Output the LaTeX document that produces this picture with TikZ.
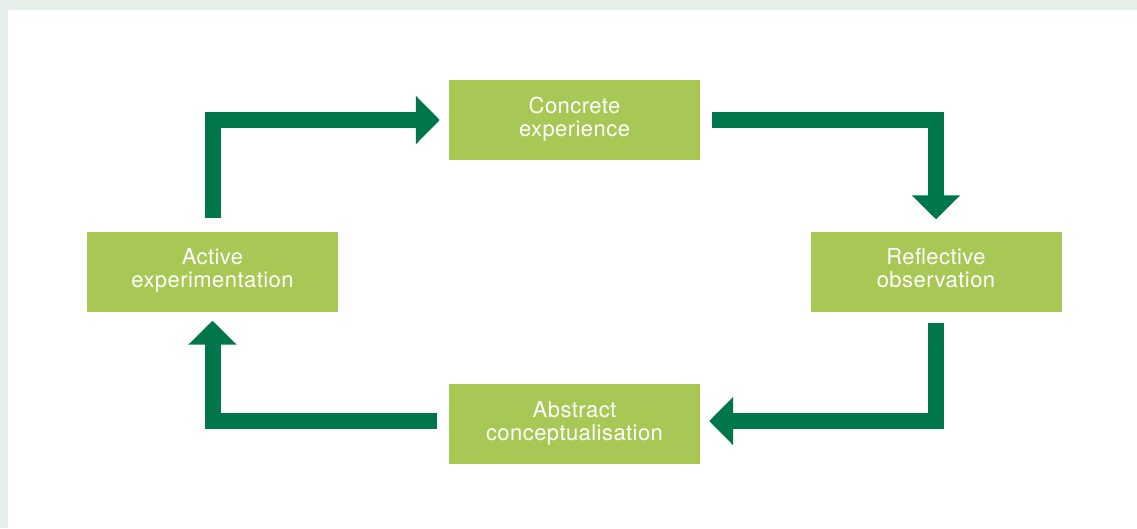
\documentclass[tikz,border=0pt]{standalone}
\usepackage{fontspec}
\setmainfont{TeX Gyre Heros}[LetterSpace=2]
\usetikzlibrary{arrows.meta}
\definecolor{framebg}{HTML}{E4EFE9}
\definecolor{boxgreen}{HTML}{A8C855}
\definecolor{arrowgreen}{HTML}{00774A}
\tikzset{
  stagebox/.style={fill=boxgreen, draw=none, minimum width=251pt, minimum height=80pt,
    inner sep=0pt, text=white, align=center, text depth=7pt,
    font=\fontsize{22pt}{23pt}\selectfont},
  flow/.style={draw=arrowgreen, line width=16pt, line join=miter, line cap=butt,
    -{Triangle[width=47pt,length=24pt]}}
}
\begin{document}
\begin{tikzpicture}[x=1pt,y=-1pt]
  \fill[framebg] (0,0) rectangle (1137,528);
  \fill[white] (8,10) rectangle (1137,528);
  \useasboundingbox (0,0) rectangle (1137,528);
  \node[stagebox] (ce) at (574.5,120) {Concrete\\experience};
  \node[stagebox] (ro) at (936,271.5) {Reflective\\observation};
  \node[stagebox] (ac) at (574.5,424) {Abstract\\conceptualisation};
  \node[stagebox] (ae) at (212.5,271.5) {Active\\experimentation};
  \draw[flow, shorten <=13pt, shorten >=9pt] (ae.north) |- (ce.west);
  \draw[flow, shorten <=12pt, shorten >=12pt] (ce.east) -| (ro.north);
  \draw[flow, shorten <=11pt, shorten >=9pt] (ro.south) |- ([yshift=3pt]ac.east);
  \draw[flow, shorten <=12pt, shorten >=9pt] ([yshift=3pt]ac.west) -| (ae.south);
\end{tikzpicture}
\end{document}
